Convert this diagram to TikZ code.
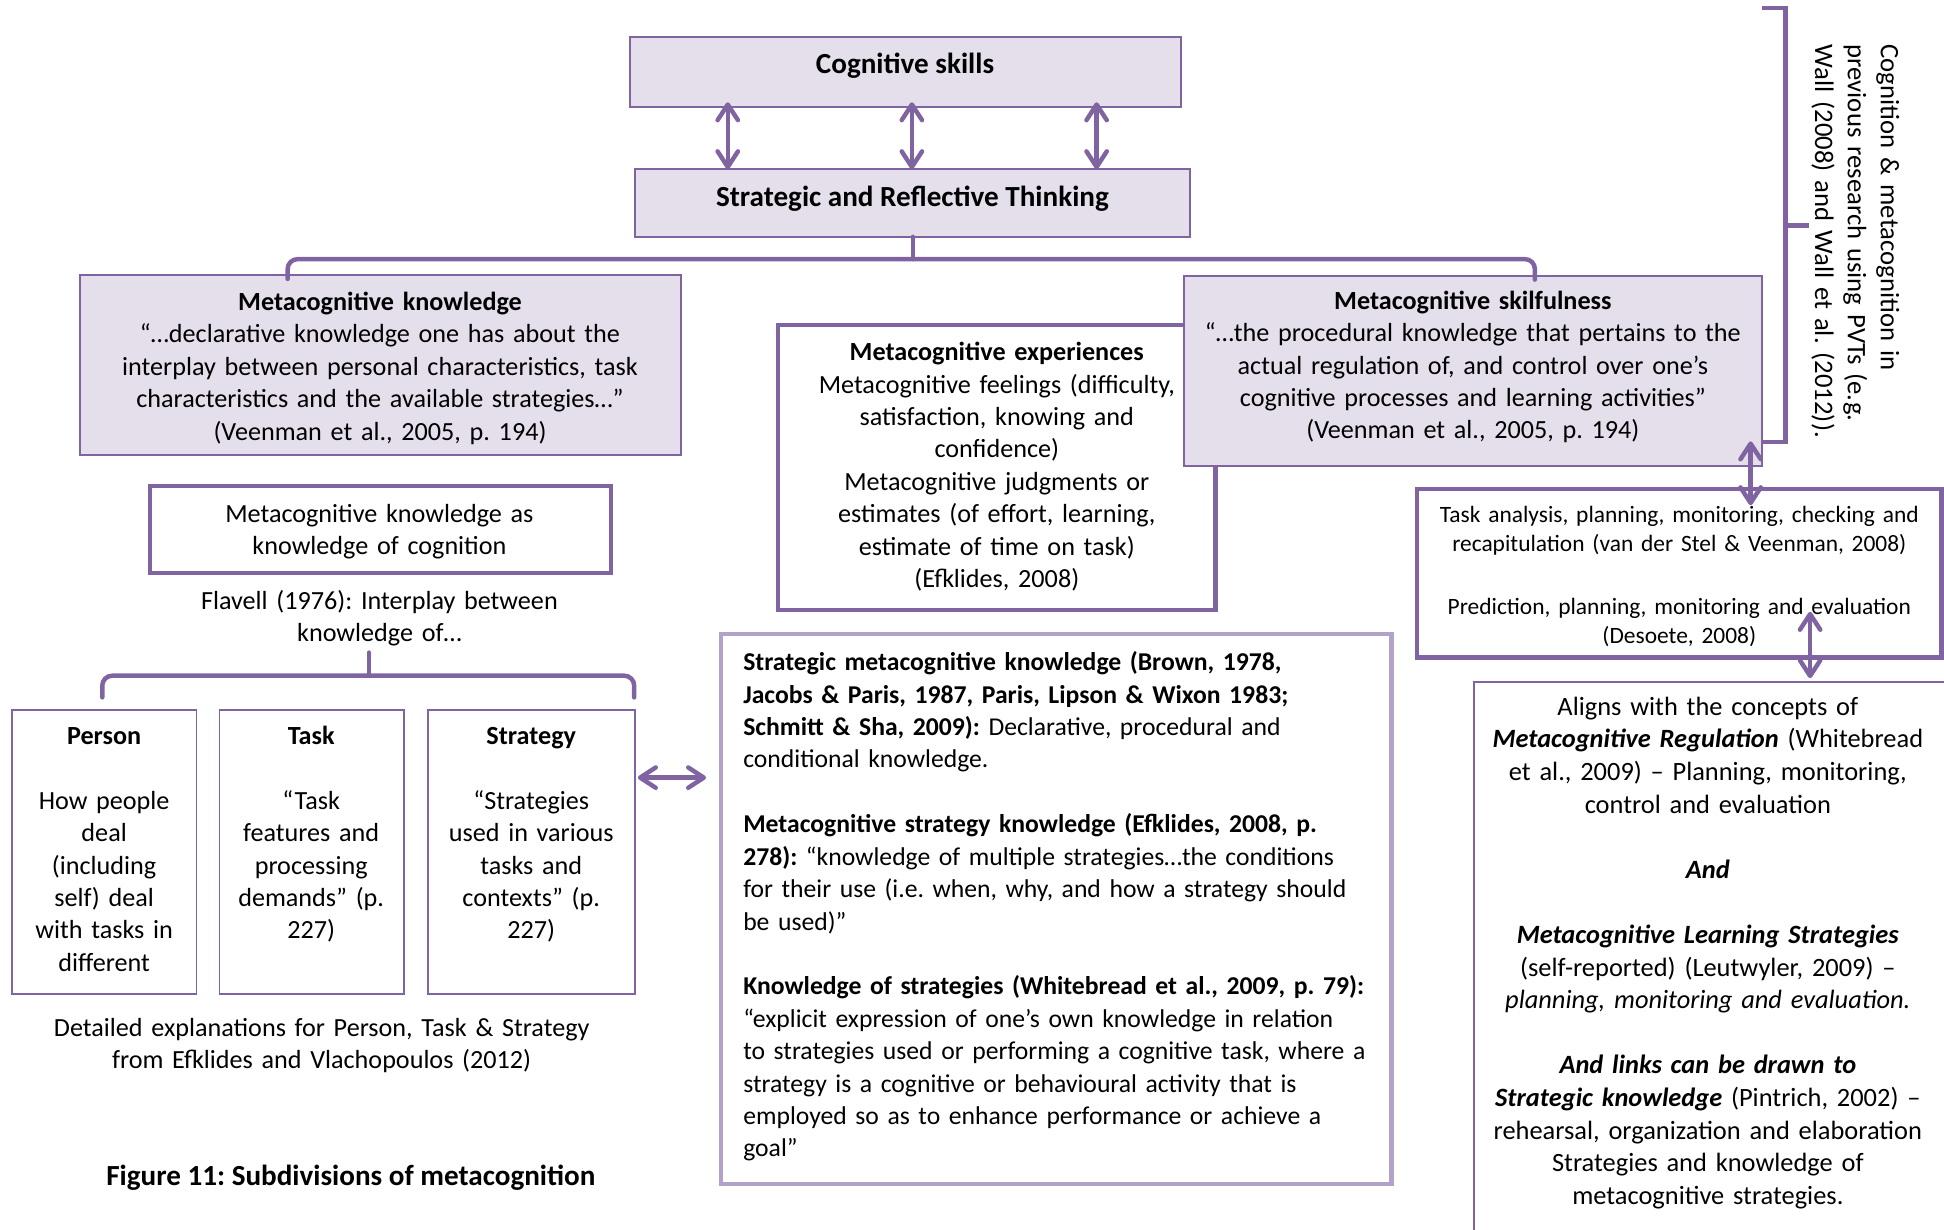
\documentclass[tikz,border=0pt]{standalone}
\usepackage{fontspec}
\setmainfont{Carlito}
\usetikzlibrary{arrows.meta,fit,calc}
\definecolor{pur}{HTML}{8064A2}
\definecolor{lav}{HTML}{E5DFEC}
\definecolor{lpur}{HTML}{B3A2C7}
\newcommand{\fsm}{\fontsize{10.55pt}{13.07pt}\selectfont}
\newcommand{\fsmid}{\fontsize{10.35pt}{13.07pt}\selectfont}
\newcommand{\fsal}{\fontsize{10.65pt}{13.15pt}\selectfont}
\newcommand{\fsvt}{\fontsize{10.77pt}{13.25pt}\selectfont}
\newcommand{\fss}{\fontsize{9.45pt}{11.7pt}\selectfont}
\newcommand{\fsl}{\fontsize{11.75pt}{14pt}\selectfont}
\frenchspacing
\begin{document}
\begin{tikzpicture}[x=0.5pt,y=-0.5pt,
  bx/.style={inner sep=0pt, outer sep=0pt},
  fillbox/.style={bx, draw=pur, fill=lav, line width=0.75pt},
  thinbox/.style={bx, draw=pur, fill=white, line width=0.75pt},
  thickbox/.style={bx, draw=pur, fill=white, line width=1.8pt},
  lightbox/.style={bx, draw=lpur, fill=white, line width=1.8pt},
  txt/.style={inner sep=0pt, outer sep=0pt, font=\fsm\frenchspacing, align=center, anchor=base},
  dbl/.style={draw=pur, line width=1.8pt, >={Straight Barb[length=6.3pt,width=8.2pt,round]}, <->},
  brk/.style={draw=pur, line width=1.8pt, rounded corners=4pt, line cap=round},
  sqbrk/.style={draw=pur, line width=1.8pt, line join=miter}
]
\useasboundingbox (0,0) rectangle (1568,992);
% ---------------- boxes
\node[fillbox, fit={(508,29.5)(952.5,86.5)}] (cog) {};
\node[fillbox, fit={(512.5,136.5)(960,191)}] (srt) {};
\node[fillbox, fit={(64.5,222)(549.5,367)}] (mk) {};
\node[thickbox, fit={(627.5,262)(980.5,492)}] (exp) {};
\node[fillbox, fit={(955,222.5)(1421,376)}] (ms) {};
\node[thickbox, fit={(121,392)(493,462)}] (mkc) {};
\node[thinbox, fit={(9.5,572.5)(158.5,802)}] (pers) {};
\node[thinbox, fit={(177,572.5)(326,802)}] (task) {};
\node[thinbox, fit={(345,572.5)(512.5,802)}] (strat) {};
\node[lightbox, fit={(581.5,511.5)(1122.5,955)}] (mid) {};
\node[thickbox, fit={(1143,394.5)(1566,530.5)}] (ta) {};
\node[bx, draw=pur, fill=white, line width=0.9pt, fit={(1189,550)(1590,1020)}] (al) {};
% ---------------- texts
\node[txt, font=\fsl\bfseries] (cogt) at (730,59.3) {Cognitive skills};
\node[txt, font=\fsl\bfseries] (srtt) at (736,166.5) {Strategic and Reflective Thinking};
\node[txt, text width=238pt] (mkt) at (306.5,250.4) {\textbf{Metacognitive knowledge}\\
“…declarative knowledge one has about the\\
interplay between personal characteristics, task\\
characteristics and the available strategies…”\\
(Veenman et al., 2005, p. 194)};
\node[txt, text width=230pt] (mst) at (1188,249.5) {\textbf{Metacognitive skilfulness}\\
“…the procedural knowledge that pertains to the\\
actual regulation of, and control over one’s\\
cognitive processes and learning activities”\\
(Veenman et al., 2005, p. 194)};
\node[txt, text width=175pt] (expt) at (804,290.9) {\textbf{Metacognitive experiences}\\
Metacognitive feelings (difficulty,\\
satisfaction, knowing and\\
confidence)\\
Metacognitive judgments or\\
estimates (of effort, learning,\\
estimate of time on task)\\
(Efklides, 2008)};
\node[txt, text width=180pt] (mkct) at (306,421.4) {Metacognitive knowledge as\\knowledge of cognition};
\node[txt, text width=180pt] (flav) at (306,491.6) {Flavell (1976): Interplay between\\knowledge of…};
\node[txt, text width=72pt] (perst) at (84,600.5) {\textbf{Person}\\\mbox{}\\How people\\deal\\(including\\self) deal\\with tasks in\\different};
\node[txt, text width=72pt] (taskt) at (251,600.5) {\textbf{Task}\\\mbox{}\\“Task\\features and\\processing\\demands” (p.\\227)};
\node[txt, text width=82pt] (stratt) at (428.5,600.5) {\textbf{Strategy}\\\mbox{}\\“Strategies\\used in various\\tasks and\\contexts” (p.\\227)};
\node[txt, text width=240pt] (det) at (259.5,835.9) {Detailed explanations for Person, Task \& Strategy\\from Efklides and Vlachopoulos (2012)};
\node[txt, font=\fsl\bfseries] (cap) at (283,955.8) {Figure 11: Subdivisions of metacognition};
\node[txt, font=\fsmid\frenchspacing, text width=268pt, align=left, anchor=base west] (midt) at (599.5,541) {\textbf{Strategic metacognitive knowledge (Brown, 1978,}\\
\textbf{Jacobs \& Paris, 1987, Paris, Lipson \& Wixon 1983;}\\
\textbf{Schmitt \& Sha, 2009):} Declarative, procedural and\\
conditional knowledge.\\\mbox{}\\
\textbf{Metacognitive strategy knowledge (Efklides, 2008, p.}\\
\textbf{278):} “knowledge of multiple strategies…the conditions\\
for their use (i.e. when, why, and how a strategy should\\
be used)”\\\mbox{}\\
\textbf{Knowledge of strategies (Whitebread et al., 2009, p. 79):}\\
“explicit expression of one’s own knowledge in relation\\
to strategies used or performing a cognitive task, where a\\
strategy is a cognitive or behavioural activity that is\\
employed so as to enhance performance or achieve a\\
goal”};
\node[txt, font=\fss\frenchspacing, text width=205pt] (tat1) at (1354.5,421.8) {Task analysis, planning, monitoring, checking and\\recapitulation (van der Stel \& Veenman, 2008)};
\node[txt, font=\fss\frenchspacing, text width=205pt] (tat2) at (1354.5,495.8) {Prediction, planning, monitoring and evaluation\\(Desoete, 2008)};
\node[txt, font=\fsal\frenchspacing, text width=186pt] (alt) at (1377.5,576.9) {Aligns with the concepts of\\
\textbf{\textit{Metacognitive Regulation}} (Whitebread\\
et al., 2009) – Planning, monitoring,\\
control and evaluation\\\mbox{}\\
\textbf{\textit{And}}\\\mbox{}\\
\textbf{\textit{Metacognitive Learning Strategies}}\\
(self-reported) (Leutwyler, 2009) –\\
\textit{planning, monitoring and evaluation.}\\\mbox{}\\
\textbf{\textit{And links can be drawn to}}\\
\textbf{\textit{Strategic knowledge}} (Pintrich, 2002) –\\
rehearsal, organization and elaboration\\
Strategies and knowledge of\\
metacognitive strategies.};
\node[txt, font=\fsvt\frenchspacing, text width=165pt, align=left, rotate=-90, anchor=base west] (vt) at (1517,36) {Cognition \& metacognition in\\previous research using PVTs (e.g.\\Wall (2008) and Wall et al. (2012)).};
% ---------------- connectors
\draw[dbl, shorten <=-2pt] (cog.south -| 587,0) -- (srt.north -| 587,0);
\draw[dbl, shorten <=-2pt] (cog.south -| 735.5,0) -- (srt.north -| 735.5,0);
\draw[dbl, shorten <=-2pt] (cog.south -| 884.5,0) -- (srt.north -| 884.5,0);
% top bracket
\draw[brk] ([yshift=-1.5pt]mk.north -| 232,0) -- (232,209) -- (1238,209) -- ([yshift=-1.5pt]ms.north -| 1238,0);
\draw[brk] (srt.south) -- (srt.south |- 0,209);
% bracket under Flavell
\draw[brk] ([yshift=5pt]pers.north -| 82.5,0) -- (82.5,545) -- (511.5,545) -- ([yshift=5pt]strat.north -| 511.5,0);
\draw[brk] ([yshift=-2.5pt]flav.south -| 297.5,0) -- (297.5,545);
% horizontal arrow
\draw[dbl, shorten <=1pt, shorten >=6pt] (strat.east |- 0,627.2) -- (mid.west |- 0,627.2);
% right side arrows
\draw[dbl, shorten <=-10pt, shorten >=-6.5pt] (ms.south -| 1412,0) -- (ta.north -| 1412,0);
\draw[dbl, shorten <=-18.5pt, shorten >=1.5pt] (ta.south -| 1460,0) -- (al.north -| 1460,0);
% right square bracket
\coordinate (brtip) at (1459,182);
\draw[sqbrk] (ms.east |- 0,6.5) -- (1440,6.5) -- (1440,356.5) -- (ms.east |- 0,356.5);
\draw[sqbrk] (1440,182) -- (brtip);
\end{tikzpicture}
\end{document}
